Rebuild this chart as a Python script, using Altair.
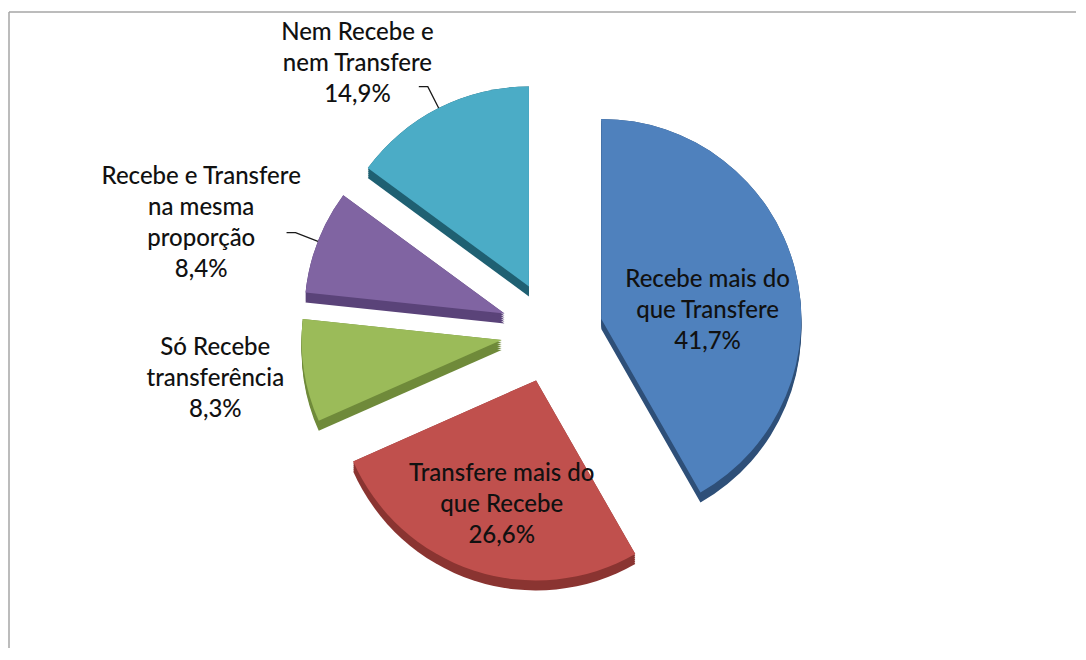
import math
import altair as alt
import pandas as pd

# ---------------- data ----------------
categories = [
    "Recebe mais do que Transfere",
    "Transfere mais do que Recebe",
    "Só Recebe transferência",
    "Recebe e Transfere na mesma proporção",
    "Nem Recebe e nem Transfere",
]
label_lines = [
    ["Recebe mais do", "que Transfere"],
    ["Transfere mais do", "que Recebe"],
    ["Só Recebe", "transferência"],
    ["Recebe e Transfere", "na mesma", "proporção"],
    ["Nem Recebe e", "nem Transfere"],
]
values = [41.7, 26.6, 8.3, 8.4, 14.9]

# ---------------- styles / layout ----------------
top_colors = ["#4F81BD", "#C0504D", "#9BBB59", "#8064A2", "#4BACC6"]
side_colors = ["#2E4F78", "#8A3431", "#6F8A3A", "#5A4379", "#1F6072"]
W, H = 1068, 640
CX, CY = 544, 324
R = 200
EXPLODE = 51
DEPTH = 10
FONT = "Lato"
FS = 24
LH = 31
OUT_RX, OUT_RY = 265, 300

total = sum(values)
arc_rows, side_rows, text_rows, lead_rows = [], [], [], []
start = 0.0
for i, (cat, v) in enumerate(zip(categories, values)):
    end = start + v
    mid = 2 * math.pi * (start + v / 2) / total
    s, c = math.sin(mid), math.cos(mid)
    ex, ey = CX + EXPLODE * s, CY - EXPLODE * c
    arc_rows.append(dict(cat=cat, start=start, end=end, ex=ex, ey=ey))
    for k in range(0, DEPTH + 1, 2):
        side_rows.append(dict(cat=cat, start=start, end=end, ex=ex, ey=ey + k))
    pct = f"{v:.1f}%".replace(".", ",")
    lines = label_lines[i] + [pct]
    text = "\n".join(lines)
    inside = v / total > 0.2
    if inside:
        rr = EXPLODE + 0.55 * R
        lx, ly = CX + rr * s, CY - rr * c + 20
    else:
        ax, ay = CX + OUT_RX * s, CY - OUT_RY * c
        w = max(len(l) for l in label_lines[i]) * 0.48 * FS
        lx = ax - w / 2 if s < 0 else ax + w / 2
        ly = ay
        if c > 0.2:
            r1, r2 = EXPLODE + R, EXPLODE + R + 24
            p1 = (CX + r1 * s, CY - r1 * c)
            p2 = (CX + r2 * s, CY - r2 * c)
            p3 = (p2[0] - 9 if s < 0 else p2[0] + 9, p2[1])
            for k, p in enumerate([p1, p2, p3]):
                lead_rows.append(dict(cat=cat, k=k, px=p[0], py=p[1]))
    # vega places the first line at the anchor: centre the whole block
    ly -= (len(lines) - 1) * LH / 2
    text_rows.append(dict(cat=cat, text=text, lx=lx, ly=ly))
    start = end

arcs = pd.DataFrame(arc_rows)
sides = pd.DataFrame(side_rows)
texts = pd.DataFrame(text_rows)
leads = pd.DataFrame(lead_rows)

xs = alt.Scale(domain=[0, W], nice=False, zero=False)
ys = alt.Scale(domain=[0, H], nice=False, zero=False, reverse=True)
ts = alt.Scale(domain=[0, total], range=[0, 2 * math.pi])

frame_top = alt.Chart(pd.DataFrame({"a": [0]})).mark_rule(color="#a6a6a6", strokeWidth=1.5).encode(
    x=alt.value(1), x2=alt.value(W), y=alt.value(4))
frame_left = alt.Chart(pd.DataFrame({"a": [0]})).mark_rule(color="#a6a6a6", strokeWidth=1.5).encode(
    x=alt.value(1), y=alt.value(4), y2=alt.value(H))

side = alt.Chart(sides).mark_arc(radius=R).encode(
    x=alt.X("ex:Q", scale=xs, axis=None),
    y=alt.Y("ey:Q", scale=ys, axis=None),
    theta=alt.Theta("start:Q", scale=ts),
    theta2="end:Q",
    color=alt.Color("cat:N", scale=alt.Scale(domain=categories, range=side_colors), legend=None),
)
top = alt.Chart(arcs).mark_arc(radius=R).encode(
    x=alt.X("ex:Q", scale=xs, axis=None),
    y=alt.Y("ey:Q", scale=ys, axis=None),
    theta=alt.Theta("start:Q", scale=ts),
    theta2="end:Q",
    fill=alt.Fill("cat:N", scale=alt.Scale(domain=categories, range=top_colors), legend=None),
)
leaders = alt.Chart(leads).mark_line(color="#1a1a1a", strokeWidth=1.3).encode(
    x=alt.X("px:Q", scale=xs, axis=None),
    y=alt.Y("py:Q", scale=ys, axis=None),
    detail="cat:N",
    order="k:Q",
)
labels = alt.Chart(texts).mark_text(
    font=FONT, fontSize=FS, fontWeight=500, lineHeight=LH, lineBreak="\n",
    align="center", baseline="middle", color="#111111",
).encode(
    x=alt.X("lx:Q", scale=xs, axis=None),
    y=alt.Y("ly:Q", scale=ys, axis=None),
    text="text:N",
)

chart = alt.layer(frame_top, frame_left, side, top, leaders, labels).resolve_scale(
    color="independent", fill="independent"
).properties(
    width=W, height=H, padding=0, autosize="none", background="white"
).configure_view(strokeWidth=0)

chart.save("out.html", embed_options={"renderer": "svg", "actions": False})
